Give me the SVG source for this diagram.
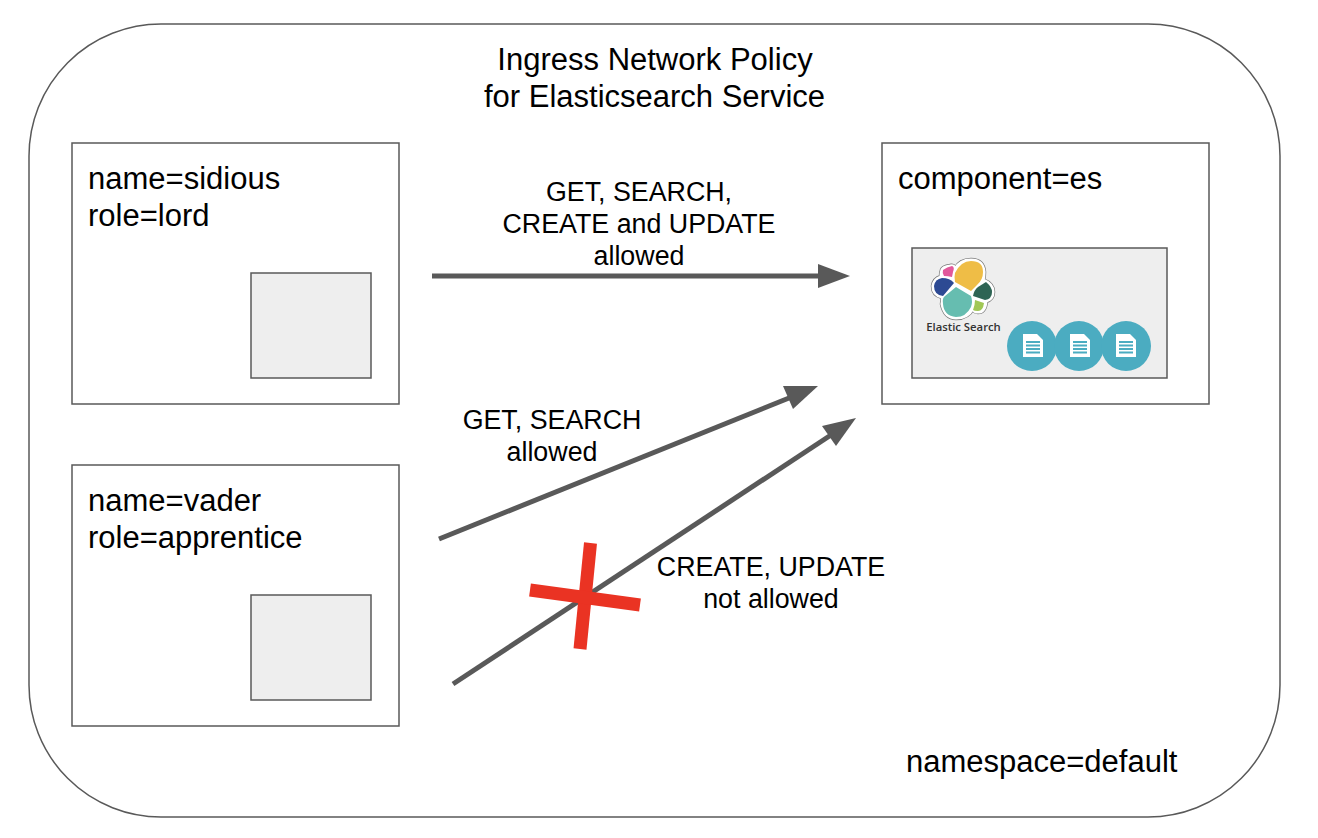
<svg xmlns="http://www.w3.org/2000/svg" width="1318" height="838" viewBox="0 0 1318 838">
<style>
.t{font-family:"Liberation Sans",Arial,sans-serif;fill:#000}
.big{font-size:31px}
.mid{font-size:26.800px}
.c{text-anchor:middle}
.box{fill:#fff;stroke:#595959;stroke-width:1.5}
.pod{fill:#eeeeee;stroke:#595959;stroke-width:1.5}
.conn{fill:none;stroke:#595959;stroke-width:5}
.ah{fill:#595959;stroke:none}
.x{stroke:#ea3323;stroke-width:13;fill:none}
.doc{fill:#4bacc1}
.page{fill:#fff}
.ln{stroke:#4bacc1;stroke-width:1.8}
.halo{fill:#fff;stroke:#777;stroke-width:4.500;stroke-linejoin:round}
.halo2{fill:#fff;stroke:#fff;stroke-width:3.200;stroke-linejoin:round}
</style>
<defs>
<path id="logo-outline" d="M942 270 Q943 267 950 266 Q954 265 955 269 Q960 260 971 260 Q983 260 984 272 Q984 277 983 280 Q993 284 993 292 Q993 299 986 301 Q985 312 978 312 Q974 312 973 308 Q968 318 956 318 Q945 318 942 304 Q943 299 942 297 Q933 295 933 286 Q934 279 941 277 Q941 273 942 270 Z"/>
</defs>
<rect width="1318" height="838" fill="#fff"/>
<g id="namespace">
<rect x="29" y="24" width="1251" height="793" rx="132" ry="132" fill="#fff" stroke="#595959" stroke-width="1.5"/>
<text class="t big c" x="655" y="70">Ingress Network Policy</text>
<text class="t big c" x="654.500" y="107">for Elasticsearch Service</text>
<text class="t big" x="906" y="772">namespace=default</text>
</g>
<g id="node-sidious">
<rect class="box" x="72" y="143" width="327" height="261"/>
<text class="t big" x="88" y="189">name=sidious</text>
<text class="t big" x="88" y="226">role=lord</text>
<rect class="pod" x="251" y="273" width="120" height="105"/>
</g>
<g id="node-vader">
<rect class="box" x="72" y="465" width="327" height="261"/>
<text class="t big" x="88" y="511">name=vader</text>
<text class="t big" x="88" y="548">role=apprentice</text>
<rect class="pod" x="251" y="595" width="120" height="105"/>
</g>
<g id="node-es">
<rect class="box" x="882" y="143" width="327" height="261"/>
<text class="t big" x="898" y="189">component=es</text>
<rect class="pod" x="912" y="248" width="255" height="130"/>
<g id="es-logo">
<use href="#logo-outline" class="halo"/>
<use href="#logo-outline" class="halo2"/>
<path d="M943 270 Q947 267 952 266 Q955 267 953 272 L952 277 Q948 276 944 276 Q942 273 943 270 Z" fill="#e2589b"/>
<path d="M955 273 Q961 261 971 261 Q983 261 983 272 Q983 280 977 285 L971 291 L955 282 Q954 277 955 273 Z" fill="#efbd46"/>
<path d="M934 286 Q935 279 942 278 Q950 278 954 283 L943 296 Q934 295 934 286 Z" fill="#2d4a93"/>
<path d="M956 287 L971 296 Q973 302 971 307 Q966 317 956 317 Q944 316 943 304 Q942 298 945 296 Z" fill="#66bdb0"/>
<path d="M986 282 Q992 287 992 292 Q992 299 985 300 L973 296 Q974 290 978 287 Z" fill="#2e6454"/>
<path d="M975 300 L984 303 Q983 311 978 311 Q974 311 973 310 Q975 305 975 300 Z" fill="#a0c755"/>
</g>
<text x="963.500" y="331" text-anchor="middle" font-family="'Open Sans','Liberation Sans',sans-serif" font-size="11.300" font-weight="600" fill="#333">Elastic Search</text>
<g id="doc1">
<circle class="doc" cx="1032" cy="346" r="25"/>
<path class="page" d="M1023 334 H1037 L1043 340 V357 H1023 Z"/>
<path class="ln" d="M1026 342 H1040 M1026 345.500 H1040 M1026 349 H1040 M1026 352.500 H1040"/>
</g>
<g id="doc2">
<circle class="doc" cx="1079" cy="346" r="25"/>
<path class="page" d="M1070 334 H1084 L1090 340 V357 H1070 Z"/>
<path class="ln" d="M1073 342 H1087 M1073 345.500 H1087 M1073 349 H1087 M1073 352.500 H1087"/>
</g>
<g id="doc3">
<circle class="doc" cx="1126" cy="346" r="25"/>
<path class="page" d="M1116 334 H1130 L1136 340 V357 H1116 Z"/>
<path class="ln" d="M1119 342 H1133 M1119 345.500 H1133 M1119 349 H1133 M1119 352.500 H1133"/>
</g>
</g>
<g id="connectors">
<path class="conn" d="M432 276 H822"/>
<path class="ah" d="M850 276 L818 264 V288 Z"/>
<path class="conn" d="M439 539 L794 396"/>
<path class="ah" d="M818 386 L783 386 L793 409 Z"/>
<path class="conn" d="M453 684 L834 433"/>
<path class="ah" d="M856 418 L822 426 L836 446 Z"/>
</g>
<g id="labels">
<text class="t mid c" x="639" y="201">GET, SEARCH,</text>
<text class="t mid c" x="639" y="233">CREATE and UPDATE</text>
<text class="t mid c" x="639" y="265">allowed</text>
<text class="t mid c" x="552" y="429">GET, SEARCH</text>
<text class="t mid c" x="552" y="461">allowed</text>
<text class="t mid c" x="771" y="576">CREATE, UPDATE</text>
<text class="t mid c" x="771" y="608">not allowed</text>
</g>
<g id="denied-mark">
<path class="x" d="M590.500 543 L580 649"/>
<path class="x" d="M530 590 L640 605"/>
</g>
</svg>
